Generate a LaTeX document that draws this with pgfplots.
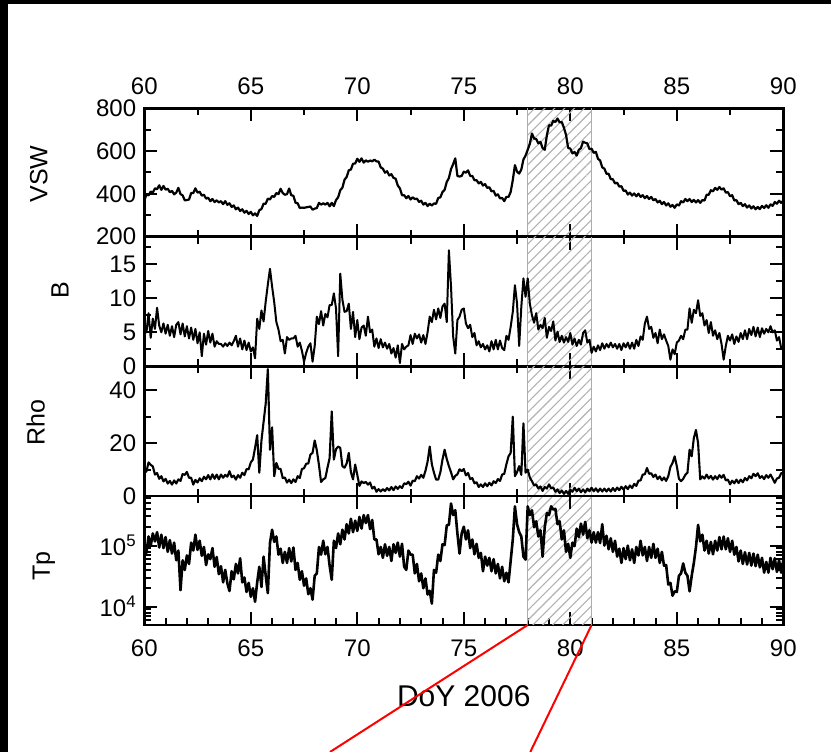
\documentclass[border=0pt]{standalone}
\usepackage{fontspec}
\setmainfont{Liberation Sans}
\usepackage{pgfplots}
\pgfplotsset{compat=1.18}
\usetikzlibrary{patterns.meta}

\tikzset{hatch/.style={pattern={Lines[angle=45,distance=7pt,line width=1.1pt]}, pattern color=black!30}}
\pgfplotsset{
  panel/.style={
    scale only axis, width=639pt, anchor=south west,
    xmin=60, xmax=90,
    axis line style={line width=2.6pt},
    tick style={black, line width=2pt},
    major tick length=13pt, minor tick length=7pt,
    tick align=inside,
    xtick={60,65,...,90}, minor xtick={62.5,67.5,...,87.5},
    tick label style={font=\fontsize{24}{28}\selectfont},
    yticklabel style={xshift=-4.6pt},
    ylabel style={font=\fontsize{25}{30}\selectfont, anchor=center},
    /pgf/number format/assume math mode=true,
  },
  trace/.style={black, line width=#1, line join=round},
}
\newcommand{\window}{%
  \fill[hatch] (rel axis cs:0.6,0) rectangle (rel axis cs:0.7,1);
  \draw[black!32, line width=1.1pt] (rel axis cs:0.6,0) -- (rel axis cs:0.6,1)
        (rel axis cs:0.7,0) -- (rel axis cs:0.7,1);}

\begin{document}
\begin{tikzpicture}
\useasboundingbox (0pt,0pt) rectangle (831pt,752pt);
\fill[white] (0pt,0pt) rectangle (831pt,752pt);
\fill[black] (0pt,0pt) rectangle (8pt,752pt);
\fill[black] (0pt,748pt) rectangle (831pt,752pt);

% ---------------- solar wind speed ----------------
\begin{axis}[panel, at={(144.3pt,515.3pt)}, height=128.4pt,
  ymin=200, ymax=800, ytick={200,400,600,800}, minor ytick={300,500,700},
  xticklabel pos=right, xticklabel style={yshift=10pt},
  ylabel={VSW}, ylabel style={at={(axis description cs:-0.165,0.488)}}]
\window
\addplot[trace=2.2pt] coordinates {
(60.0,368)(60.1,398)(60.2,393)(60.3,411)(60.4,406)(60.5,426)(60.6,422)(60.7,440)(60.8,419)(60.9,437)
(61.0,420)(61.1,424)(61.2,408)(61.3,414)(61.4,398)(61.5,406)(61.6,428)(61.7,399)(61.8,393)(61.9,370)
(62.0,371)(62.1,374)(62.2,404)(62.3,404)(62.4,426)(62.5,406)(62.6,410)(62.7,392)(62.8,396)(62.9,378)
(63.0,382)(63.1,366)(63.2,376)(63.3,362)(63.4,370)(63.5,360)(63.6,366)(63.7,352)(63.8,366)(63.9,349)
(64.0,356)(64.1,339)(64.2,346)(64.3,328)(64.4,336)(64.5,320)(64.6,328)(64.7,312)(64.8,321)(64.9,306)
(65.0,316)(65.1,300)(65.2,309)(65.3,297)(65.4,324)(65.5,329)(65.6,354)(65.7,354)(65.8,378)(65.9,374)
(66.0,390)(66.1,386)(66.2,404)(66.3,399)(66.4,424)(66.5,404)(66.6,396)(66.7,399)(66.8,425)(66.9,394)
(67.0,391)(67.1,359)(67.2,356)(67.3,334)(67.4,336)(67.5,335)(67.6,337)(67.7,339)(67.8,341)(67.9,326)
(68.0,331)(68.1,334)(68.2,358)(68.3,350)(68.4,356)(68.5,350)(68.6,358)(68.7,342)(68.8,358)(68.9,343)
(69.0,371)(69.1,384)(69.2,417)(69.3,429)(69.4,466)(69.5,479)(69.6,510)(69.7,514)(69.8,541)(69.9,542)
(70.0,564)(70.1,550)(70.2,566)(70.3,546)(70.4,557)(70.5,550)(70.6,556)(70.7,552)(70.8,560)(70.9,552)
(71.0,551)(71.1,524)(71.2,518)(71.3,499)(71.4,506)(71.5,486)(71.6,492)(71.7,475)(71.8,471)(71.9,439)
(72.0,426)(72.1,394)(72.2,394)(72.3,380)(72.4,390)(72.5,374)(72.6,384)(72.7,376)(72.8,378)(72.9,362)
(73.0,368)(73.1,350)(73.2,358)(73.3,343)(73.4,354)(73.5,346)(73.6,355)(73.7,354)(73.8,381)(73.9,384)
(74.0,409)(74.1,419)(74.2,456)(74.3,474)(74.4,516)(74.5,539)(74.6,566)(74.7,484)(74.8,481)(74.9,484)
(75.0,504)(75.1,499)(75.2,510)(75.3,484)(75.4,484)(75.5,464)(75.6,464)(75.7,449)(75.8,456)(75.9,439)
(76.0,446)(76.1,428)(76.2,431)(76.3,412)(76.4,414)(76.5,392)(76.6,398)(76.7,379)(76.8,381)(76.9,366)
(77.0,386)(77.1,386)(77.2,409)(77.3,464)(77.4,534)(77.5,504)(77.6,495)(77.7,514)(77.8,561)(77.9,579)
(78.0,606)(78.1,634)(78.2,682)(78.3,659)(78.4,656)(78.5,636)(78.6,643)(78.7,614)(78.8,606)(78.9,674)
(79.0,721)(79.1,719)(79.2,741)(79.3,736)(79.4,752)(79.5,734)(79.6,736)(79.7,709)(79.8,676)(79.9,614)
(80.0,612)(80.1,589)(80.2,596)(80.3,579)(80.4,606)(80.5,614)(80.6,644)(80.7,639)(80.8,636)(80.9,609)
(81.0,611)(81.1,592)(81.2,596)(81.3,564)(81.4,556)(81.5,524)(81.6,518)(81.7,494)(81.8,494)(81.9,469)
(82.0,468)(82.1,449)(82.2,452)(82.3,434)(82.4,436)(82.5,414)(82.6,416)(82.7,397)(82.8,406)(82.9,392)
(83.0,402)(83.1,389)(83.2,401)(83.3,386)(83.4,394)(83.5,380)(83.6,390)(83.7,376)(83.8,386)(83.9,370)
(84.0,376)(84.1,360)(84.2,368)(84.3,352)(84.4,362)(84.5,346)(84.6,356)(84.7,340)(84.8,348)(84.9,335)
(85.0,351)(85.1,346)(85.2,366)(85.3,360)(85.4,376)(85.5,366)(85.6,376)(85.7,362)(85.8,372)(85.9,360)
(86.0,371)(86.1,358)(86.2,371)(86.3,369)(86.4,396)(86.5,396)(86.6,417)(86.7,412)(86.8,428)(86.9,419)
(87.0,432)(87.1,420)(87.2,426)(87.3,406)(87.4,408)(87.5,389)(87.6,394)(87.7,369)(87.8,371)(87.9,352)
(88.0,358)(88.1,343)(88.2,352)(88.3,336)(88.4,346)(88.5,332)(88.6,342)(88.7,328)(88.8,339)(88.9,329)
(89.0,344)(89.1,334)(89.2,347)(89.3,335)(89.4,351)(89.5,344)(89.6,362)(89.7,354)(89.8,368)(89.9,358)
(90.0,368)};
\end{axis}

% ---------------- magnetic field ----------------
\begin{axis}[panel, at={(144.3pt,385.5pt)}, height=129.8pt,
  ymin=0, ymax=19, ytick={0,5,10,15}, minor ytick={2.5,7.5,12.5,17.5},
  xticklabels={},
  ylabel={B}, ylabel style={at={(axis description cs:-0.132,0.589)}}]
\window
\addplot[trace=2.0pt] coordinates {
(60.0,6.5)(60.1,5.0)(60.2,7.8)(60.3,4.2)(60.4,7.0)(60.5,5.5)(60.6,8.6)(60.7,6.0)(60.8,5.0)(60.9,6.3)
(61.0,4.8)(61.1,6.1)(61.2,4.5)(61.3,5.9)(61.4,4.3)(61.5,6.1)(61.6,6.5)(61.7,4.7)(61.8,6.3)(61.9,4.4)
(62.0,5.9)(62.1,4.1)(62.2,5.7)(62.3,3.9)(62.4,5.5)(62.5,3.4)(62.6,5.0)(62.7,1.5)(62.8,4.8)(62.9,3.2)
(63.0,5.2)(63.1,3.5)(63.2,4.8)(63.3,2.9)(63.4,3.7)(63.5,3.3)(63.6,3.3)(63.7,2.9)(63.8,3.4)(63.9,3.0)
(64.0,3.5)(64.1,3.1)(64.2,3.7)(64.3,4.5)(64.4,2.9)(64.5,4.1)(64.6,2.5)(64.7,3.8)(64.8,2.4)(64.9,3.5)
(65.0,2.2)(65.1,2.8)(65.2,1.2)(65.3,7.0)(65.4,5.5)(65.5,8.2)(65.6,6.6)(65.7,9.5)(65.8,12.0)(65.9,14.3)
(66.0,11.7)(66.1,9.4)(66.2,6.5)(66.3,5.4)(66.4,3.7)(66.5,3.9)(66.6,1.9)(66.7,4.3)(66.8,3.9)(66.9,4.1)
(67.0,4.1)(67.1,4.5)(67.2,2.9)(67.3,3.5)(67.4,2.3)(67.5,0.7)(67.6,2.0)(67.7,2.9)(67.8,3.4)(67.9,0.7)
(68.0,3.0)(68.1,7.3)(68.2,6.2)(68.3,8.1)(68.4,6.0)(68.5,7.7)(68.6,7.2)(68.7,9.0)(68.8,9.0)(68.9,10.7)
(69.0,8.5)(69.1,1.5)(69.2,13.6)(69.3,9.8)(69.4,8.0)(69.5,8.1)(69.6,9.2)(69.7,5.5)(69.8,8.0)(69.9,4.3)
(70.0,6.8)(70.1,4.0)(70.2,5.7)(70.3,6.0)(70.4,4.5)(70.5,7.3)(70.6,5.0)(70.7,5.4)(70.8,2.9)(70.9,4.1)
(71.0,2.7)(71.1,4.0)(71.2,2.8)(71.3,3.5)(71.4,2.6)(71.5,3.3)(71.6,1.9)(71.7,2.7)(71.8,1.3)(71.9,3.1)
(72.0,0.5)(72.1,3.3)(72.2,2.5)(72.3,2.9)(72.4,3.1)(72.5,4.6)(72.6,3.3)(72.7,4.8)(72.8,4.1)(72.9,4.7)
(73.0,3.5)(73.1,4.6)(73.2,3.3)(73.3,5.0)(73.4,7.3)(73.5,6.5)(73.6,8.3)(73.7,6.9)(73.8,8.5)(73.9,7.1)
(74.0,8.8)(74.1,9.2)(74.2,6.5)(74.3,17.0)(74.4,11.7)(74.5,4.4)(74.6,1.9)(74.7,6.8)(74.8,7.3)(74.9,8.3)
(75.0,8.5)(75.1,6.3)(75.2,5.6)(75.3,6.1)(75.4,4.3)(75.5,4.9)(75.6,3.1)(75.7,3.7)(75.8,2.8)(75.9,3.3)
(76.0,2.5)(76.1,3.1)(76.2,2.2)(76.3,3.7)(76.4,2.5)(76.5,3.9)(76.6,2.5)(76.7,3.8)(76.8,2.7)(76.9,2.4)
(77.0,4.5)(77.1,3.9)(77.2,5.8)(77.3,8.0)(77.4,11.9)(77.5,9.2)(77.6,3.0)(77.7,8.7)(77.8,12.9)(77.9,10.2)
(78.0,12.9)(78.1,9.2)(78.2,7.5)(78.3,6.4)(78.4,7.8)(78.5,5.4)(78.6,6.1)(78.7,5.6)(78.8,7.1)(78.9,4.2)
(79.0,5.8)(79.1,5.2)(79.2,6.6)(79.3,3.8)(79.4,5.1)(79.5,3.6)(79.6,4.5)(79.7,3.5)(79.8,4.3)(79.9,3.6)
(80.0,4.9)(80.1,3.2)(80.2,4.1)(80.3,3.0)(80.4,3.9)(80.5,3.2)(80.6,4.9)(80.7,5.3)(80.8,3.5)(80.9,3.9)
(81.0,2.0)(81.1,2.9)(81.2,2.2)(81.3,3.1)(81.4,2.4)(81.5,3.4)(81.6,2.6)(81.7,3.3)(81.8,2.8)(81.9,3.5)
(82.0,2.8)(82.1,3.3)(82.2,2.6)(82.3,3.3)(82.4,2.4)(82.5,3.4)(82.6,2.8)(82.7,3.5)(82.8,2.6)(82.9,3.5)
(83.0,2.6)(83.1,3.9)(83.2,3.0)(83.3,4.4)(83.4,3.9)(83.5,6.3)(83.6,7.3)(83.7,5.5)(83.8,5.8)(83.9,4.2)
(84.0,4.9)(84.1,3.4)(84.2,5.4)(84.3,4.0)(84.4,4.7)(84.5,3.8)(84.6,3.0)(84.7,1.0)(84.8,2.5)(84.9,1.8)
(85.0,3.5)(85.1,3.8)(85.2,4.5)(85.3,4.0)(85.4,5.4)(85.5,5.4)(85.6,8.5)(85.7,6.4)(85.8,8.3)(85.9,7.8)
(86.0,9.7)(86.1,7.4)(86.2,7.8)(86.3,6.0)(86.4,6.8)(86.5,4.9)(86.6,6.5)(86.7,4.5)(86.8,5.3)(86.9,4.0)
(87.0,4.9)(87.1,3.3)(87.2,1.0)(87.3,3.0)(87.4,4.5)(87.5,3.8)(87.6,4.7)(87.7,3.3)(87.8,4.4)(87.9,3.6)
(88.0,4.9)(88.1,4.0)(88.2,5.3)(88.3,4.0)(88.4,5.5)(88.5,4.6)(88.6,5.8)(88.7,4.4)(88.8,5.7)(88.9,4.3)
(89.0,5.6)(89.1,4.8)(89.2,5.5)(89.3,5.0)(89.4,5.9)(89.5,5.0)(89.6,5.3)(89.7,3.8)(89.8,4.3)(89.9,2.7)
(90.0,3.0)};
\end{axis}

% ---------------- proton density ----------------
\begin{axis}[panel, at={(144.3pt,256pt)}, height=129.5pt,
  ymin=0, ymax=49, ytick={0,20,40}, minor ytick={10,30},
  xticklabels={},
  ylabel={Rho}, ylabel style={at={(axis description cs:-0.17,0.564)}}]
\window
\addplot[trace=2.1pt] coordinates {
(60.0,8.7)(60.1,9.3)(60.2,12.7)(60.3,11.8)(60.4,11.2)(60.5,8.1)(60.6,8.7)(60.7,6.5)(60.8,7.5)(60.9,5.5)
(61.0,6.5)(61.1,4.7)(61.2,5.7)(61.3,4.3)(61.4,5.9)(61.5,4.7)(61.6,6.3)(61.7,5.7)(61.8,8.3)(61.9,8.0)
(62.0,9.1)(62.1,6.9)(62.2,6.9)(62.3,4.3)(62.4,6.1)(62.5,5.1)(62.6,6.7)(62.7,5.6)(62.8,7.3)(62.9,6.3)
(63.0,7.9)(63.1,6.3)(63.2,8.2)(63.3,6.5)(63.4,8.1)(63.5,6.3)(63.6,8.1)(63.7,6.9)(63.8,8.0)(63.9,7.3)
(64.0,9.4)(64.1,7.1)(64.2,7.7)(64.3,6.2)(64.4,7.9)(64.5,6.9)(64.6,8.8)(64.7,7.9)(64.8,10.2)(64.9,10.1)
(65.0,12.7)(65.1,13.8)(65.2,18.2)(65.3,23.0)(65.4,8.8)(65.5,21.0)(65.6,28.0)(65.7,35.0)(65.8,48.0)(65.9,17.5)
(66.0,26.0)(66.1,7.5)(66.2,12.5)(66.3,10.3)(66.4,10.2)(66.5,6.8)(66.6,7.0)(66.7,5.1)(66.8,6.2)(66.9,4.9)
(67.0,6.3)(67.1,5.3)(67.2,7.5)(67.3,6.8)(67.4,10.2)(67.5,10.5)(67.6,12.2)(67.7,12.3)(67.8,15.7)(67.9,16.3)
(68.0,21.0)(68.1,17.3)(68.2,11.7)(68.3,5.3)(68.4,6.3)(68.5,6.8)(68.6,10.7)(68.7,14.3)(68.8,32.0)(68.9,13.8)
(69.0,17.7)(69.1,18.7)(69.2,18.2)(69.3,11.3)(69.4,10.7)(69.5,12.3)(69.6,16.3)(69.7,9.0)(69.8,6.3)(69.9,11.9)
(70.0,8.0)(70.1,3.8)(70.2,5.5)(70.3,4.9)(70.4,5.3)(70.5,4.3)(70.6,5.1)(70.7,2.8)(70.8,3.5)(70.9,1.6)
(71.0,2.6)(71.1,1.7)(71.2,2.6)(71.3,1.9)(71.4,3.0)(71.5,2.1)(71.6,3.4)(71.7,2.2)(71.8,3.6)(71.9,2.7)
(72.0,3.7)(72.1,3.0)(72.2,4.8)(72.3,4.5)(72.4,5.4)(72.5,3.9)(72.6,5.8)(72.7,5.6)(72.8,7.5)(72.9,6.6)
(73.0,8.0)(73.1,6.9)(73.2,9.5)(73.3,13.0)(73.4,18.7)(73.5,12.0)(73.6,8.8)(73.7,6.2)(73.8,6.2)(73.9,9.0)
(74.0,13.8)(74.1,17.5)(74.2,14.0)(74.3,11.3)(74.4,9.0)(74.5,6.3)(74.6,7.6)(74.7,8.2)(74.8,10.1)(74.9,9.4)
(75.0,10.2)(75.1,7.8)(75.2,8.7)(75.3,6.4)(75.4,6.8)(75.5,4.8)(75.6,5.2)(75.7,3.4)(75.8,4.4)(75.9,3.4)
(76.0,4.8)(76.1,3.7)(76.2,5.0)(76.3,4.0)(76.4,5.6)(76.5,4.9)(76.6,6.4)(76.7,5.7)(76.8,8.1)(76.9,8.4)
(77.0,12.0)(77.1,15.0)(77.2,16.3)(77.3,30.0)(77.4,7.5)(77.5,9.0)(77.6,11.3)(77.7,8.0)(77.8,27.5)(77.9,8.8)
(78.0,10.0)(78.1,7.0)(78.2,5.6)(78.3,4.0)(78.4,4.4)(78.5,2.8)(78.6,3.6)(78.7,1.9)(78.8,3.4)(78.9,2.8)
(79.0,4.4)(79.1,2.9)(79.2,3.2)(79.3,1.6)(79.4,2.5)(79.5,1.1)(79.6,2.1)(79.7,0.8)(79.8,1.9)(79.9,0.8)
(80.0,2.4)(80.1,1.6)(80.2,3.1)(80.3,1.8)(80.4,2.8)(80.5,1.4)(80.6,2.5)(80.7,1.4)(80.8,2.8)(80.9,1.8)
(81.0,3.1)(81.1,1.8)(81.2,2.9)(81.3,1.6)(81.4,2.8)(81.5,1.7)(81.6,2.8)(81.7,1.7)(81.8,2.8)(81.9,1.7)
(82.0,3.0)(82.1,1.9)(82.2,3.2)(82.3,2.2)(82.4,3.5)(82.5,2.4)(82.6,3.7)(82.7,2.6)(82.8,4.0)(82.9,3.0)
(83.0,4.6)(83.1,3.8)(83.2,5.8)(83.3,5.9)(83.4,8.1)(83.5,8.2)(83.6,10.6)(83.7,8.4)(83.8,8.6)(83.9,7.2)
(84.0,8.1)(84.1,6.4)(84.2,7.4)(84.3,5.9)(84.4,7.0)(84.5,5.7)(84.6,7.5)(84.7,11.0)(84.8,12.5)(84.9,15.0)
(85.0,11.3)(85.1,6.5)(85.2,5.6)(85.3,6.5)(85.4,8.0)(85.5,8.8)(85.6,17.5)(85.7,15.0)(85.8,21.9)(85.9,25.0)
(86.0,20.0)(86.1,6.3)(86.2,7.4)(86.3,6.6)(86.4,8.1)(86.5,6.6)(86.6,7.6)(86.7,6.2)(86.8,7.5)(86.9,6.4)
(87.0,7.9)(87.1,6.9)(87.2,8.0)(87.3,5.9)(87.4,6.2)(87.5,4.4)(87.6,5.8)(87.7,4.8)(87.8,6.2)(87.9,4.9)
(88.0,6.2)(88.1,5.2)(88.2,6.8)(88.3,5.9)(88.4,7.5)(88.5,6.7)(88.6,8.4)(88.7,7.5)(88.8,8.6)(88.9,6.8)
(89.0,7.5)(89.1,6.4)(89.2,7.9)(89.3,6.9)(89.4,8.1)(89.5,6.6)(89.6,5.0)(89.7,6.6)(89.8,6.9)(89.9,8.6)
(90.0,8.75)};
\end{axis}

% ---------------- proton temperature ----------------
\begin{axis}[panel, at={(144.3pt,127pt)}, height=129pt,
  ymode=log, ymin=5000, ymax=650000,
  ytick={10000,100000}, yticklabels={10\textsuperscript{4},10\textsuperscript{5}},
  minor ytick={6000,7000,8000,9000,20000,30000,40000,50000,60000,70000,80000,90000,200000,300000,400000,500000,600000},
  xtick pos=left, minor xtick={61,...,89},
  xticklabel style={yshift=-11pt},
  xlabel={DoY 2006},
  xlabel style={font=\fontsize{30}{34}\selectfont, at={(axis description cs:0.5,-0.55)}, anchor=center},
  ylabel={Tp}, ylabel style={at={(axis description cs:-0.157,0.457)}}]
\window
\addplot[trace=2.6pt] coordinates {
(60.0,8.9e4)(60.1,7.6e4)(60.2,1.41e5)(60.3,9.8e4)(60.4,1.58e5)(60.5,1.17e5)(60.6,1.66e5)(60.7,9.3e4)(60.8,1.51e5)(60.9,9.1e4)
(61.0,1.38e5)(61.1,7.9e4)(61.2,1.23e5)(61.3,7.4e4)(61.4,1.12e5)(61.5,5.75e4)(61.6,8.3e4)(61.7,1.86e4)(61.8,5.75e4)(61.9,3.98e4)
(62.0,6.9e4)(62.1,5.0e4)(62.2,1.12e5)(62.3,8.3e4)(62.4,1.51e5)(62.5,8.5e4)(62.6,1.2e5)(62.7,6.8e4)(62.8,9.5e4)(62.9,4.8e4)
(63.0,7.2e4)(63.1,6.0e4)(63.2,9.1e4)(63.3,4.5e4)(63.4,6.5e4)(63.5,3.4e4)(63.6,4.6e4)(63.7,2.5e4)(63.8,4.0e4)(63.9,2.4e4)
(64.0,1.8e4)(64.1,3.8e4)(64.2,2.8e4)(64.3,5.0e4)(64.4,3.5e4)(64.5,6.2e4)(64.6,2.5e4)(64.7,3.0e4)(64.8,1.74e4)(64.9,2.45e4)
(65.0,1.45e4)(65.1,2.0e4)(65.2,1.2e4)(65.3,2.5e4)(65.4,4.5e4)(65.5,2.1e4)(65.6,6.6e4)(65.7,3.2e4)(65.8,1.66e4)(65.9,1.1e5)
(66.0,1.82e5)(66.1,1.15e5)(66.2,1.41e5)(66.3,7.1e4)(66.4,8.9e4)(66.5,5.2e4)(66.6,7.9e4)(66.7,5.2e4)(66.8,9.1e4)(66.9,5.5e4)
(67.0,9.3e4)(67.1,4.0e4)(67.2,5.2e4)(67.3,2.75e4)(67.4,3.8e4)(67.5,2.2e4)(67.6,2.9e4)(67.7,1.6e4)(67.8,2.0e4)(67.9,1.3e4)
(68.0,3.2e4)(68.1,3.5e4)(68.2,9.5e4)(68.3,7.1e4)(68.4,1.2e5)(68.5,7.2e4)(68.6,9.5e4)(68.7,4.7e4)(68.8,2.75e4)(68.9,1.2e5)
(69.0,9.1e4)(69.1,1.58e5)(69.2,1.05e5)(69.3,1.82e5)(69.4,1.26e5)(69.5,2.24e5)(69.6,1.58e5)(69.7,2.75e5)(69.8,1.66e5)(69.9,2.57e5)
(70.0,1.74e5)(70.1,2.95e5)(70.2,1.9e5)(70.3,3.16e5)(70.4,2.34e5)(70.5,3.16e5)(70.6,1.86e5)(70.7,2.63e5)(70.8,1.26e5)(70.9,1.26e5)
(71.0,7.2e4)(71.1,9.5e4)(71.2,6.3e4)(71.3,1.05e5)(71.4,6.8e4)(71.5,9.5e4)(71.6,5.6e4)(71.7,1.05e5)(71.8,7.6e4)(71.9,1.12e5)
(72.0,6.6e4)(72.1,1.07e5)(72.2,4.5e4)(72.3,4.0e4)(72.4,8.3e4)(72.5,7.1e4)(72.6,7.1e4)(72.7,3.5e4)(72.8,5.0e4)(72.9,2.6e4)
(73.0,3.5e4)(73.1,2.0e4)(73.2,2.9e4)(73.3,1.58e4)(73.4,1.82e4)(73.5,1.12e4)(73.6,4.0e4)(73.7,3.6e4)(73.8,7.1e4)(73.9,5.6e4)
(74.0,1.05e5)(74.1,1.02e5)(74.2,2.14e5)(74.3,2.19e5)(74.4,4.9e5)(74.5,3.16e5)(74.6,3.8e5)(74.7,1.58e5)(74.8,7.4e4)(74.9,1.58e5)
(75.0,2.04e5)(75.1,1.26e5)(75.2,1.78e5)(75.3,9.1e4)(75.4,1.26e5)(75.5,7.2e4)(75.6,1.07e5)(75.7,6.3e4)(75.8,7.6e4)(75.9,3.8e4)
(76.0,6.6e4)(76.1,4.7e4)(76.2,6.3e4)(76.3,3.8e4)(76.4,6.0e4)(76.5,3.5e4)(76.6,5.0e4)(76.7,2.9e4)(76.8,4.5e4)(76.9,2.6e4)
(77.0,3.6e4)(77.1,2.5e4)(77.2,5.6e4)(77.3,1.26e5)(77.4,4.4e5)(77.5,2.24e5)(77.6,1.66e5)(77.7,1.41e5)(77.8,6.6e4)(77.9,5.9e4)
(78.0,4.4e5)(78.1,3.16e5)(78.2,3.8e5)(78.3,2.0e5)(78.4,2.5e5)(78.5,1.41e5)(78.6,1.78e5)(78.7,6.6e4)(78.8,2.0e5)(78.9,3.4e5)
(79.0,3.16e5)(79.1,4.4e5)(79.2,3.9e5)(79.3,4.0e5)(79.4,2.24e5)(79.5,2.5e5)(79.6,1.26e5)(79.7,1.78e5)(79.8,7.9e4)(79.9,1.07e5)
(80.0,6.3e4)(80.1,1.12e5)(80.2,9.8e4)(80.3,1.9e5)(80.4,1.38e5)(80.5,2.29e5)(80.6,1.51e5)(80.7,2.45e5)(80.8,1.32e5)(80.9,1.78e5)
(81.0,1.12e5)(81.1,1.66e5)(81.2,1.12e5)(81.3,1.66e5)(81.4,1.1e5)(81.5,2.24e5)(81.6,1.0e5)(81.7,1.45e5)(81.8,8.7e4)(81.9,1.32e5)
(82.0,7.9e4)(82.1,1.2e5)(82.2,6.6e4)(82.3,8.9e4)(82.4,5.2e4)(82.5,9.1e4)(82.6,6.0e4)(82.7,1.0e5)(82.8,5.75e4)(82.9,8.7e4)
(83.0,5.2e4)(83.1,9.5e4)(83.2,6.9e4)(83.3,1.2e5)(83.4,6.9e4)(83.5,9.5e4)(83.6,5.6e4)(83.7,9.5e4)(83.8,6.3e4)(83.9,1.07e5)
(84.0,6.3e4)(84.1,8.9e4)(84.2,5.2e4)(84.3,7.9e4)(84.4,4.7e4)(84.5,4.8e4)(84.6,2.3e4)(84.7,2.45e4)(84.8,1.51e4)(84.9,1.78e4)
(85.0,1.74e4)(85.1,3.2e4)(85.2,3.5e4)(85.3,5.1e4)(85.4,3.6e4)(85.5,3.2e4)(85.6,1.78e4)(85.7,3.2e4)(85.8,5.2e4)(85.9,9.5e4)
(86.0,2.19e5)(86.1,1.17e5)(86.2,1.51e5)(86.3,8.3e4)(86.4,1.2e5)(86.5,7.4e4)(86.6,1.15e5)(86.7,7.2e4)(86.8,1.2e5)(86.9,8.3e4)
(87.0,1.38e5)(87.1,8.7e4)(87.2,1.41e5)(87.3,8.7e4)(87.4,1.32e5)(87.5,7.9e4)(87.6,1.2e5)(87.7,7.1e4)(87.8,9.5e4)(87.9,5.5e4)
(88.0,8.3e4)(88.1,5.0e4)(88.2,7.8e4)(88.3,4.9e4)(88.4,7.6e4)(88.5,4.7e4)(88.6,7.4e4)(88.7,4.6e4)(88.8,7.1e4)(88.9,4.4e4)
(89.0,6.3e4)(89.1,3.6e4)(89.2,5.4e4)(89.3,3.6e4)(89.4,6.3e4)(89.5,4.1e4)(89.6,6.2e4)(89.7,3.7e4)(89.8,5.75e4)(89.9,3.6e4)
(90.0,5.75e4)};
\coordinate (zoomL) at (axis cs:78,5000);
\coordinate (zoomR) at (axis cs:81,5000);
\end{axis}
% top edge of the temperature panel carries the 2.5-day ticks
\begin{axis}[panel, at={(144.3pt,127pt)}, height=129pt,
  ymin=0, ymax=1, axis x line*=top, axis y line=none,
  xticklabels={}]
\end{axis}

% connectors to the enlarged interval
\draw[red, line width=2pt] (zoomL) -- ++(-197.7pt,-127pt);
\draw[red, line width=2pt] (zoomR) -- ++(-61.3pt,-127pt);
\end{tikzpicture}
\end{document}
